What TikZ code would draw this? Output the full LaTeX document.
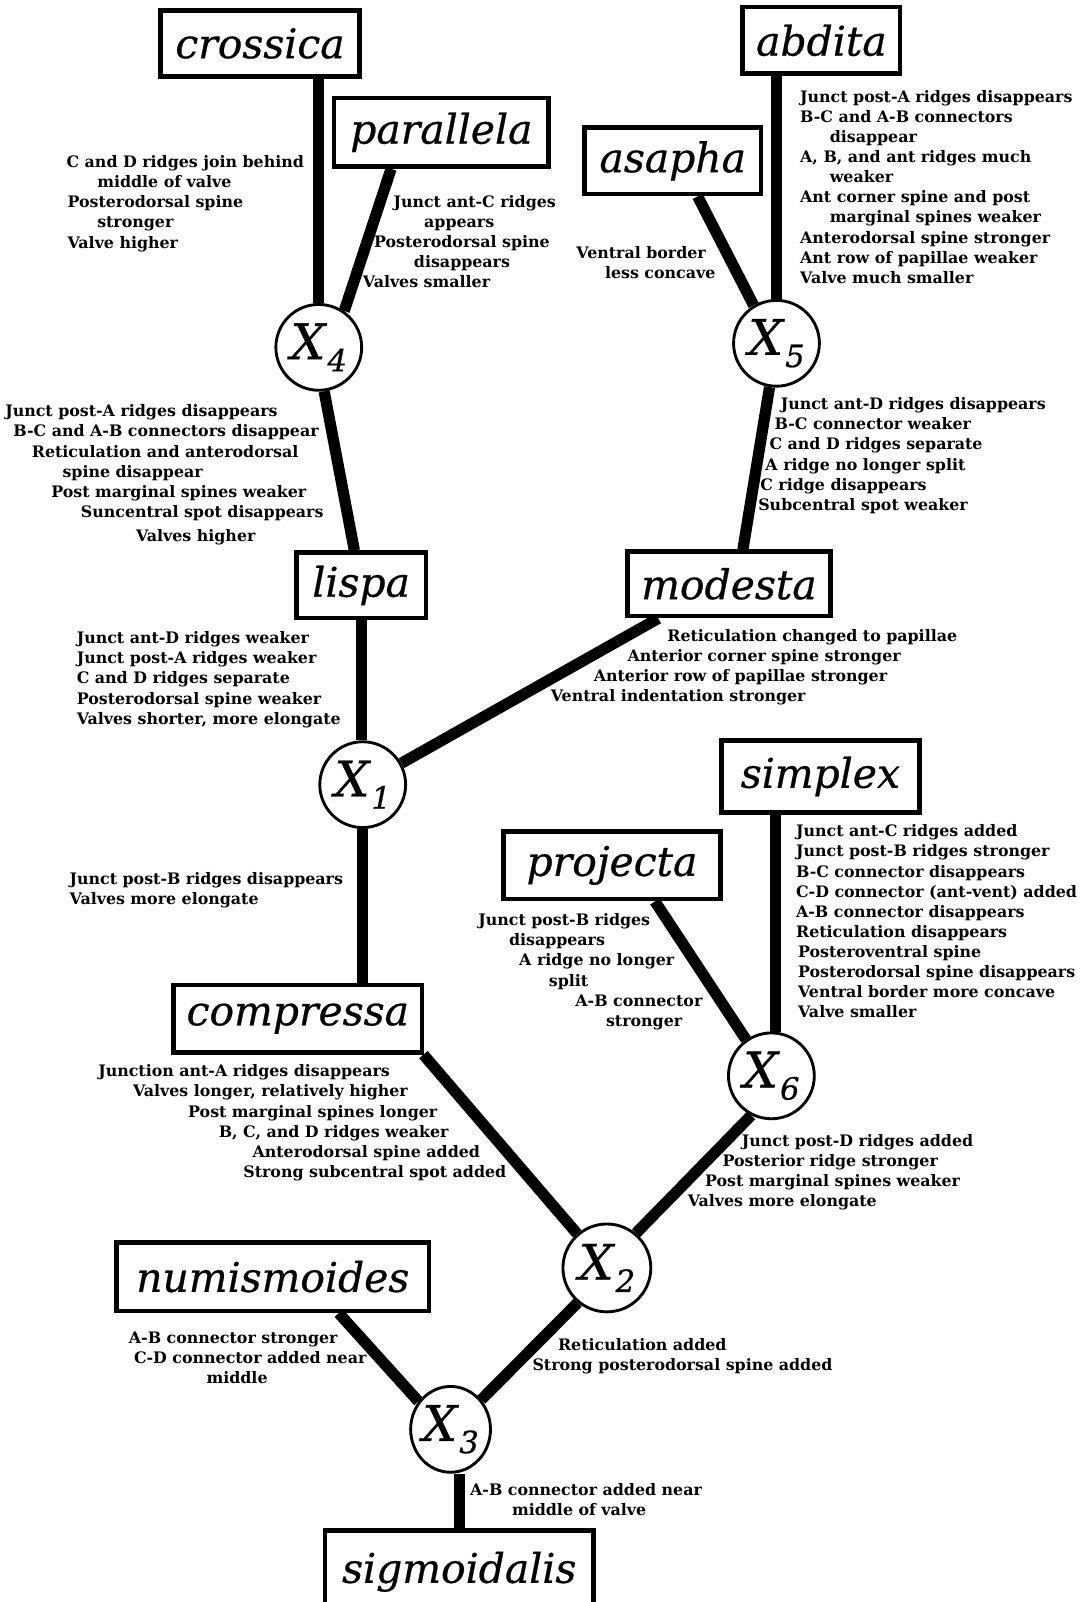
\documentclass[tikz,border=0pt]{standalone}
\usepackage{fontspec}
\setmainfont{DejaVu Serif}
\newfontfamily\taxonface{DejaVu Serif}[ItalicFeatures={FakeBold=0.6}]
\usetikzlibrary{backgrounds,shapes.geometric}

% fonts for the three kinds of text
\newcommand{\notefont}{\fontsize{15.5}{19.7}\selectfont\bfseries}
\newcommand{\taxonfont}{\fontsize{40}{44}\selectfont\taxonface\itshape}
\newcommand{\anc}[1]{{\fontsize{48}{48}\selectfont\taxonface\itshape X}\kern2pt\raisebox{-12pt}{\fontsize{30}{30}\selectfont\taxonface\itshape #1}}
\newcommand{\ind}[1]{\hspace*{#1pt}}

\begin{document}
\begin{tikzpicture}[x=1pt,y=-1pt,
  taxon/.style={draw,line width=4.5pt,fill=white,inner sep=0pt,font=\taxonfont},
  ancestor/.style={draw,circle,line width=2.8pt,fill=white,inner sep=0pt,minimum size=84pt},
  ancestorov/.style={draw,ellipse,line width=2.8pt,fill=white,inner sep=0pt,minimum width=77pt,minimum height=84pt},
  branch/.style={line width=11pt},
  note/.style={font=\notefont,align=left,anchor=north west,inner sep=0pt}]

\useasboundingbox (0,0) rectangle (1066,1568);

% ---------- terminal taxa ----------
\node[taxon,minimum width=195pt,minimum height=65pt] (crossica)   at (254.5,42.5)  {crossica};
\node[taxon,minimum width=210pt,minimum height=67pt] (parallela)  at (432,129.5)   {parallela};
\node[taxon,minimum width=154pt,minimum height=65pt] (abdita)     at (804,39.5)    {abdita};
\node[taxon,minimum width=173pt,minimum height=65pt] (asapha)     at (658.5,157.5) {asapha};
\node[taxon,minimum width=127pt,minimum height=64pt] (lispa)      at (353.5,573)   {lispa};
\node[taxon,minimum width=199pt,minimum height=63pt] (modesta)    at (713.5,571.5) {modesta};
\node[taxon,minimum width=243pt,minimum height=66pt] (compressa)  at (291.5,997)   {compressa};
\node[taxon,minimum width=194pt,minimum height=70pt] (simplex)    at (803,760)     {simplex};
\node[taxon,minimum width=212pt,minimum height=66pt] (projecta)   at (599,847)     {projecta};
\node[taxon,minimum width=306pt,minimum height=67pt] (numismoides) at (267,1249.5) {numismoides};
\node[taxon,minimum width=263pt,minimum height=84pt,text depth=12pt] (sigmoidalis) at (449.5,1540) {sigmoidalis};

% ---------- hypothetical ancestors ----------
\node[ancestor] (X4) at (312,340)  {\anc{4}};
\node[ancestor] (X5) at (760,336)  {\anc{5}};
\node[ancestor] (X1) at (355,768)  {\anc{1}};
\node[ancestor] (X6) at (755,1053) {\anc{6}};
\node[ancestor,minimum size=86pt] (X2) at (594,1241) {\anc{2}};
\node[ancestorov] (X3) at (441,1399) {\anc{3}};

% ---------- branches ----------
\begin{scope}[on background layer]
\draw[branch] (X4.north |- crossica.south) -- (X4.north);
\draw[branch] (parallela.216) -- (X4.55);
\draw[branch] (X5.north |- abdita.south) -- (X5.north);
\draw[branch] (asapha.305) -- (X5.121);
\draw[branch] (X4.277) -- (lispa.101);
\draw[branch] (X5.261) -- (modesta.68);
\draw[branch] (lispa.south) -- (lispa.south |- X1.north);
\draw[branch] (modesta.206) -- (X1.29);
\draw[branch] (X1.south) -- (X1.south |- compressa.north);
\draw[branch] (simplex.south -| X6.85) -- (X6.85);
\draw[branch] (projecta.320) -- (X6.125);
\draw[branch] (compressa.344) -- (X2.131);
\draw[branch] (X6.243) -- (X2.50);
\draw[branch] (numismoides.331) -- (X3.139);
\draw[branch] (X2.230) -- (X3.44);
\draw[branch] (X3.south -| sigmoidalis.north) -- (sigmoidalis.north);
\end{scope}

% ---------- character changes ----------
\node[note] (n-crossica) at (65,152) {%
  C and D ridges join behind\\
  \ind{30}middle of valve\\
  \ind{1}Posterodorsal spine\\
  \ind{30}stronger\\
  \ind{1}Valve higher};

\node[note] (n-parallela) at (355,191) {%
  \ind{30}Junct ant-C ridges\\
  \ind{60}appears\\
  \ind{11}Posterodorsal spine\\
  \ind{50}disappears\\
  Valves smaller};

\node[note] (n-abdita) at (783,88) {%
  Junct post-A ridges disappears\\
  B-C and A-B connectors\\
  \ind{29}disappear\\
  A, B, and ant ridges much\\
  \ind{29}weaker\\
  Ant corner spine and post\\
  \ind{29}marginal spines weaker\\
  Anterodorsal spine stronger\\
  Ant row of papillae weaker\\
  Valve much smaller};

\node[note] (n-asapha) at (564,241) {%
  Ventral border\\
  \ind{28}less concave};

\node[note] (n-X4) at (5,396) {%
  Junct post-A ridges disappears\\
  \ind{8}B-C and A-B connectors disappear\\
  \ind{26}Reticulation and anterodorsal\\
  \ind{56}spine disappear\\
  \ind{45}Post marginal spines weaker\\
  \ind{74}Suncentral spot disappears\\[4pt]
  \ind{128}Valves higher};

\node[note] (n-X5) at (742,389) {%
  \ind{22}Junct ant-D ridges disappears\\
  \ind{16}B-C connector weaker\\
  \ind{11}C and D ridges separate\\
  \ind{7}A ridge no longer split\\
  \ind{2}C ridge disappears\\
  Subcentral spot weaker};

\node[note] (n-lispa) at (75,618) {%
  Junct ant-D ridges weaker\\
  Junct post-A ridges weaker\\
  C and D ridges separate\\
  Posterodorsal spine weaker\\
  Valves shorter, more elongate};

\node[note] (n-modesta) at (539,616) {%
  \ind{114}Reticulation changed to papillae\\
  \ind{75}Anterior corner spine stronger\\
  \ind{42}Anterior row of papillae stronger\\
  Ventral indentation stronger};

\node[note] (n-X1) at (68,854) {%
  Junct post-B ridges disappears\\
  Valves more elongate};

\node[note] (n-simplex) at (779,807) {%
  Junct ant-C ridges added\\
  Junct post-B ridges stronger\\
  B-C connector disappears\\
  C-D connector (ant-vent) added\\
  A-B connector disappears\\
  Reticulation disappears\\
  \ind{2}Posteroventral spine\\
  \ind{2}Posterodorsal spine disappears\\
  \ind{2}Ventral border more concave\\
  \ind{2}Valve smaller};

\node[note] (n-projecta) at (468,894) {%
  Junct post-B ridges\\
  \ind{30}disappears\\
  \ind{40}A ridge no longer\\
  \ind{69}split\\
  \ind{95}A-B connector\\
  \ind{125}stronger};

\node[note] (n-compressa) at (96,1042) {%
  Junction ant-A ridges disappears\\
  \ind{34}Valves longer, relatively higher\\
  \ind{88}Post marginal spines longer\\
  \ind{118}B, C, and D ridges weaker\\
  \ind{151}Anterodorsal spine added\\
  \ind{142}Strong subcentral spot added};

\node[note] (n-X6) at (673,1110) {%
  \ind{53}Junct post-D ridges added\\
  \ind{34}Posterior ridge stronger\\
  \ind{17}Post marginal spines weaker\\
  Valves more elongate};

\node[note] (n-numismoides) at (126,1303) {%
  A-B connector stronger\\
  \ind{5}C-D connector added near\\
  \ind{76}middle};

\node[note] (n-X2) at (521,1310) {%
  \ind{25}Reticulation added\\
  Strong posterodorsal spine added};

\node[note] (n-X3) at (460,1452) {%
  A-B connector added near\\
  \ind{41}middle of valve};

\end{tikzpicture}
\end{document}
